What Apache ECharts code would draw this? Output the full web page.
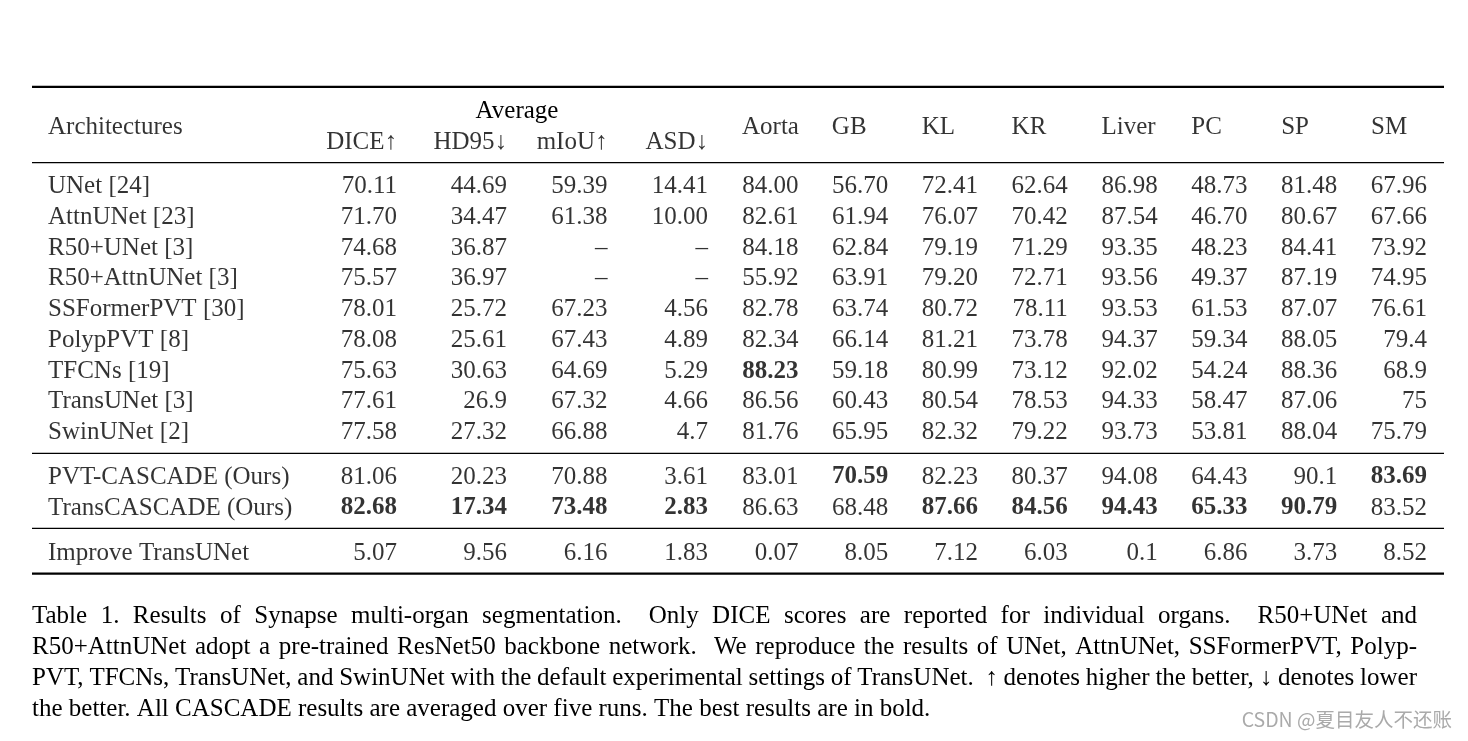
<!DOCTYPE html>
<html><head><meta charset="utf-8">
<script src="https://cdn.jsdelivr.net/npm/echarts@6/dist/echarts.min.js"></script>
<style>html,body{margin:0;padding:0;background:#fff}#c{width:1468px;height:741px}</style>
</head><body><div id="c"></div>
<script>
// ---------------- data ----------------
const architectures = ['UNet [24]','AttnUNet [23]','R50+UNet [3]','R50+AttnUNet [3]','SSFormerPVT [30]','PolypPVT [8]','TFCNs [19]','TransUNet [3]','SwinUNet [2]'];
const oursRows = ['PVT-CASCADE (Ours)','TransCASCADE (Ours)'];
const improveRows = ['Improve TransUNet'];
const avgColumns = ['DICE','HD95','mIoU','ASD'];
const avgHeaders = ['DICE↑','HD95↓','mIoU↑','ASD↓'];
const organColumns = ['Aorta','GB','KL','KR','Liver','PC','SP','SM'];
const firstHeader = 'Architectures';
const groupHeader = 'Average';
// values per column, rows in order: architectures, ours, improve (null = not reported)
const dice  = ['70.11','71.70','74.68','75.57','78.01','78.08','75.63','77.61','77.58','81.06','82.68','5.07'];
const hd95  = ['44.69','34.47','36.87','36.97','25.72','25.61','30.63','26.9','27.32','20.23','17.34','9.56'];
const miou  = ['59.39','61.38',null,null,'67.23','67.43','64.69','67.32','66.88','70.88','73.48','6.16'];
const asd   = ['14.41','10.00',null,null,'4.56','4.89','5.29','4.66','4.7','3.61','2.83','1.83'];
const aorta = ['84.00','82.61','84.18','55.92','82.78','82.34','88.23','86.56','81.76','83.01','86.63','0.07'];
const gb    = ['56.70','61.94','62.84','63.91','63.74','66.14','59.18','60.43','65.95','70.59','68.48','8.05'];
const kl    = ['72.41','76.07','79.19','79.20','80.72','81.21','80.99','80.54','82.32','82.23','87.66','7.12'];
const kr    = ['62.64','70.42','71.29','72.71','78.11','73.78','73.12','78.53','79.22','80.37','84.56','6.03'];
const liver = ['86.98','87.54','93.35','93.56','93.53','94.37','92.02','94.33','93.73','94.08','94.43','0.1'];
const pc    = ['48.73','46.70','48.23','49.37','61.53','59.34','54.24','58.47','53.81','64.43','65.33','6.86'];
const sp    = ['81.48','80.67','84.41','87.19','87.07','88.05','88.36','87.06','88.04','90.1','90.79','3.73'];
const sm    = ['67.96','67.66','73.92','74.95','76.61','79.4','68.9','75','75.79','83.69','83.52','8.52'];
const boldCells = [
  ['TFCNs [19]','Aorta'],
  ['PVT-CASCADE (Ours)','GB'],['PVT-CASCADE (Ours)','SM'],
  ['TransCASCADE (Ours)','DICE'],['TransCASCADE (Ours)','HD95'],['TransCASCADE (Ours)','mIoU'],['TransCASCADE (Ours)','ASD'],
  ['TransCASCADE (Ours)','KL'],['TransCASCADE (Ours)','KR'],['TransCASCADE (Ours)','Liver'],['TransCASCADE (Ours)','PC'],['TransCASCADE (Ours)','SP']
];
const captionLines = [
  'Table 1. Results of Synapse multi-organ segmentation. Only DICE scores are reported for individual organs. R50+UNet and',
  'R50+AttnUNet adopt a pre-trained ResNet50 backbone network. We reproduce the results of UNet, AttnUNet, SSFormerPVT, Polyp-',
  'PVT, TFCNs, TransUNet, and SwinUNet with the default experimental settings of TransUNet. ↑ denotes higher the better, ↓ denotes lower',
  'the better. All CASCADE results are averaged over five runs. The best results are in bold.'
];
const watermark = 'CSDN @夏目友人不还账';

// ---------------- layout / style ----------------
const FAMILY = '"Liberation Serif", "Times New Roman", serif';
const SIZE = 25;
const valueColumns = {DICE:dice, HD95:hd95, mIoU:miou, ASD:asd, Aorta:aorta, GB:gb, KL:kl, KR:kr, Liver:liver, PC:pc, SP:sp, SM:sm};
const allRows = architectures.concat(oursRows, improveRows);
const isBold = (r,c) => boldCells.some(b => b[0]===r && b[1]===c);

const colGroups = [
  {cats:['name','DICE'], left:48, right:397},
  {cats:['HD95','mIoU','ASD'], left:507, right:708},
  {cats:organColumns, left:798.5, right:1427}
];
const organHeaderSpan = {left:742, right:1371};
const rowBlocks = [
  {rows:architectures, top:171.2, rowH:30.75},
  {rows:oursRows, top:461.5, rowH:31},
  {rows:improveRows, top:537.5, rowH:31}
];
const headerBlock = {rows:['group','head','sub'], top:104, rowH:15.5};

const grids=[], xAxes=[], yAxes=[], series=[];
function addGrid(left,right,top,height,xcats,ycats){
  const i = grids.length;
  grids.push({left:left, top:top, width:right-left, height:height});
  xAxes.push({gridIndex:i, type:'category', data:xcats, boundaryGap:false, show:false});
  yAxes.push({gridIndex:i, type:'category', data:ycats, boundaryGap:true, inverse:true, show:false});
  return i;
}
function addCells(i, data){
  series.push({
    type:'scatter', xAxisIndex:i, yAxisIndex:i, symbolSize:1, silent:true,
    itemStyle:{color:'rgba(0,0,0,0)'},
    label:{show:true, position:'inside', formatter:p=>p.data.text, color:'#000',
      fontFamily:FAMILY, fontSize:SIZE, verticalAlign:'middle'},
    data:data
  });
}
function cell(col,row,text,align,bold){
  return {value:[col,row], text:text, label:{align:align, fontWeight:bold?'bold':'normal'}};
}

// body cells
rowBlocks.forEach(block=>{
  colGroups.forEach(g=>{
    const i = addGrid(g.left,g.right,block.top,block.rowH*block.rows.length,g.cats,block.rows);
    const data=[];
    block.rows.forEach(r=>{
      const ri = allRows.indexOf(r);
      g.cats.forEach(c=>{
        if(c==='name'){ data.push(cell(c,r,r,'left',false)); }
        else { const v = valueColumns[c][ri]; data.push(cell(c,r, v===null?'–':v,'right',isBold(r,c))); }
      });
    });
    addCells(i,data);
  });
});
// header cells
const hH = headerBlock.rowH*headerBlock.rows.length;
let hi = addGrid(colGroups[0].left,colGroups[0].right,headerBlock.top,hH,colGroups[0].cats,headerBlock.rows);
addCells(hi,[cell('name','head',firstHeader,'left',false), cell('DICE','sub',avgHeaders[0],'right',false)]);
hi = addGrid(colGroups[1].left,colGroups[1].right,headerBlock.top,hH,colGroups[1].cats,headerBlock.rows);
addCells(hi, colGroups[1].cats.map((c,k)=>cell(c,'sub',avgHeaders[k+1],'right',false)));
hi = addGrid(organHeaderSpan.left,organHeaderSpan.right,headerBlock.top,hH,organColumns,headerBlock.rows);
addCells(hi, organColumns.map(c=>cell(c,'head',c,'left',false)));

// rules
const rules = [{y:86.8,w:2.2},{y:162.6,w:1.3},{y:453.3,w:1.3},{y:528.3,w:1.3},{y:573.6,w:2.2}];
const graphics = rules.map(r=>({type:'line', silent:true, shape:{x1:32,y1:r.y,x2:1444,y2:r.y}, style:{stroke:'#000', lineWidth:r.w}}));
graphics.push({type:'text', silent:true, style:{text:groupHeader, x:517, y:111.5, fontFamily:FAMILY, fontSize:SIZE, fill:'#000', align:'center', verticalAlign:'middle'}});

// caption (justified)
const ctx = document.createElement('canvas').getContext('2d');
ctx.font = SIZE+'px '+FAMILY;
const capLeft=32, capRight=1417, capY0=616, capDY=31;
captionLines.forEach((line,li)=>{
  const y = capY0 + li*capDY;
  if(li===captionLines.length-1){
    graphics.push({type:'text', silent:true, style:{text:line, x:capLeft, y:y, fontFamily:FAMILY, fontSize:SIZE, fill:'#000', align:'left', verticalAlign:'middle'}});
    return;
  }
  const words = line.split(' ');
  const widths = words.map(w=>ctx.measureText(w).width);
  const weights = words.slice(0,-1).map(w=>/[a-zA-Z]\.$/.test(w)?2:1);
  const total = widths.reduce((a,b)=>a+b,0);
  const unit = (capRight-capLeft-total)/weights.reduce((a,b)=>a+b,0);
  let x = capLeft;
  words.forEach((w,k)=>{
    graphics.push({type:'text', silent:true, style:{text:w, x:x, y:y, fontFamily:FAMILY, fontSize:SIZE, fill:'#000', align:'left', verticalAlign:'middle'}});
    x += widths[k] + (k<weights.length? unit*weights[k] : 0);
  });
});
graphics.push({type:'text', silent:true, style:{text:watermark, x:1452, y:720, fontFamily:'"Noto Sans CJK SC", sans-serif', fontSize:19.5, fill:'#aaaaaa', align:'right', verticalAlign:'middle'}});

const chart = echarts.init(document.getElementById('c'), null, {renderer:'canvas'});
chart.setOption({
  animation:false,
  backgroundColor:'#fff',
  grid:grids, xAxis:xAxes, yAxis:yAxes, series:series,
  graphic:graphics
});
</script></body></html>
